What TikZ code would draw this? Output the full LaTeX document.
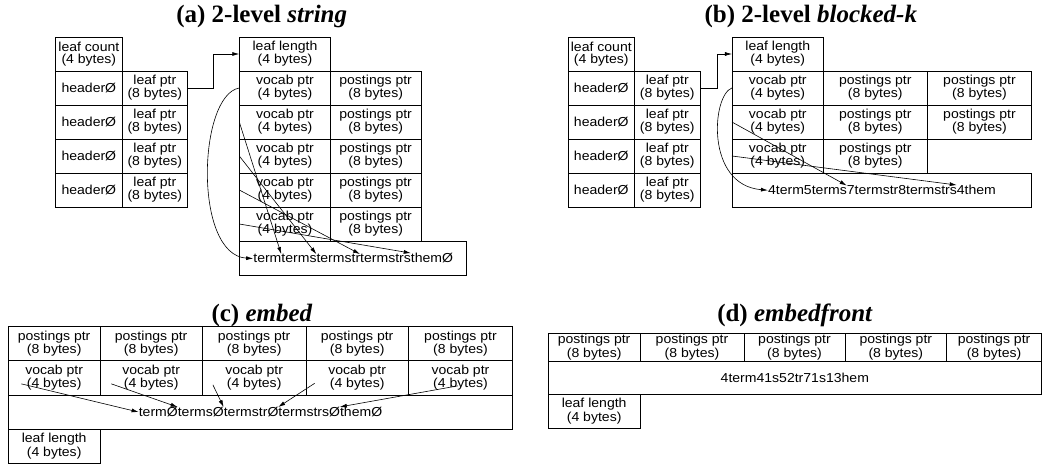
\documentclass[tikz,border=0pt]{standalone}
\usepackage{fontspec}
\usetikzlibrary{arrows.meta,matrix,calc}
\newfontfamily\cellfont{Liberation Sans}[FakeStretch=1.08]
\newfontfamily\titlefont{Liberation Serif}
\newcommand\bx[6]{\node[cell, minimum width={(#4-#2)*1pt}, minimum height={(#5-#3)*1pt}] (#1) at ({(#2+#4)/2},{(#3+#5)/2}) {#6};}
\tikzset{
  cell/.style={draw, line width=0.8pt, inner sep=0pt, align=center, font={\cellfont\fontsize{13}{12}\selectfont}},
  seg/.style={inner sep=0pt, font={\cellfont\fontsize{13}{12}\selectfont}},
  strrow/.style={matrix of nodes, nodes={seg}, column sep=0pt, inner sep=0pt, anchor=center},
  arr/.style={line width=0.6pt, -{Latex[length=7pt,width=4pt]}},
  ttl/.style={anchor=base, inner sep=0pt, font={\titlefont\fontsize{25}{27}\selectfont\bfseries}}
}
\begin{document}
\begin{tikzpicture}[x=1pt,y=-1pt]
\useasboundingbox (0,0) rectangle (1042,465);
% ---------- (a) ----------
\node[ttl] (ta) at (261.7,23) {(a) 2-level \textit{string}};
\bx{alc}{55.7}{37}{122}{71}{leaf count\\(4 bytes)}
\foreach \i/\ya/\yb in {1/71/105,2/105/139,3/139/173,4/173/207}{
  \bx{ah\i}{55.7}{\ya}{122}{\yb}{headerØ}
  \bx{ap\i}{122}{\ya}{187.7}{\yb}{leaf ptr\\(8 bytes)}
}
\bx{all}{239.7}{37}{330.3}{71}{leaf length\\(4 bytes)}
\foreach \i/\ya/\yb in {1/71/105,2/105/139,3/139/173,4/173/207,5/207/241}{
  \bx{av\i}{239.7}{\ya}{330.3}{\yb}{vocab ptr\\(4 bytes)}
  \bx{apo\i}{330.3}{\ya}{421}{\yb}{postings ptr\\(8 bytes)}
}
\bx{astr}{239.7}{241}{466.7}{275.3}{}
\matrix (at) [strrow] at (astr.center) {term & terms & termstr & termstrs & themØ\\};
\draw[arr] (ap1.east) -- ++(25.3,0) |- (all.west);
\draw[arr] (av1.west) .. controls (198,95) and (193,255) .. (at-1-1.west);
\draw[arr] (av2.west) -- (at-1-2.north west);
\draw[arr] (av3.west) -- (at-1-3.north west);
\draw[arr] (av4.west) -- (at-1-4.north west);
\draw[arr] (av5.west) -- (at-1-5.north west);
% ---------- (b) ----------
\node[ttl] (tb) at (810.8,23) {(b) 2-level \textit{blocked-k}};
\bx{blc}{568.3}{37}{634.3}{71}{leaf count\\(4 bytes)}
\foreach \i/\ya/\yb in {1/71/105,2/105/139,3/139/173,4/173/207}{
  \bx{bh\i}{568.3}{\ya}{634.3}{\yb}{headerØ}
  \bx{bp\i}{634.3}{\ya}{700.3}{\yb}{leaf ptr\\(8 bytes)}
}
\bx{bll}{732.3}{37}{823.3}{71}{leaf length\\(4 bytes)}
\foreach \i/\ya/\yb in {1/71/105,2/105/139,3/139/173}{
  \bx{bv\i}{732.3}{\ya}{823.3}{\yb}{vocab ptr\\(4 bytes)}
  \bx{bpa\i}{823.3}{\ya}{927.3}{\yb}{postings ptr\\(8 bytes)}
}
\foreach \i/\ya/\yb in {1/71/105,2/105/139}{
  \bx{bpb\i}{927.3}{\ya}{1031.7}{\yb}{postings ptr\\(8 bytes)}
}
\bx{bstr}{732.3}{173}{1031.7}{207}{}
\matrix (bt) [strrow] at (bstr.center) {4term & 5terms & 7termstr & 8termstrs & 4them\\};
\draw[arr] (bp1.east) -- ++(16.4,0) |- (bll.west);
\draw[arr] (bv1.west) .. controls (712,95) and (705,185) .. (bt-1-1.west);
\draw[arr] (bv2.west) -- (bt-1-3.north west);
\draw[arr] (bv3.west) -- (bt-1-5.north west);
% ---------- (c) ----------
\node[ttl] (tc) at (262,321) {(c) \textit{embed}};
\foreach \i/\xa/\xb in {1/8.3/100,2/100/202.3,3/202.3/306,4/306/408.3,5/408.3/512.7}{
  \bx{cp\i}{\xa}{326.7}{\xb}{360.7}{postings ptr\\(8 bytes)}
  \bx{cv\i}{\xa}{360.7}{\xb}{395}{vocab ptr\\(4 bytes)}
}
\bx{cstr}{8.3}{395}{512.7}{429}{}
\bx{cll}{8.3}{429}{100}{463.3}{leaf length\\(4 bytes)}
\matrix (ct) [strrow] at (cstr.center) {termØ & termsØ & termstrØ & termstrsØ & themØ\\};
\coordinate (cs1) at ([xshift=13.4pt,yshift=-6pt]cv1.west);
\coordinate (cs2) at ([xshift=11.7pt,yshift=-6pt]cv2.west);
\coordinate (cs3) at ([xshift=11pt,yshift=-7pt]cv3.west);
\coordinate (cs4) at ([xshift=9pt,yshift=-5.5pt]cv4.west);
\coordinate (cs5) at ([xshift=50pt,yshift=-8pt]cv5.west);
\draw[arr] (cs1) -- (ct-1-1.west);
\draw[arr] (cs2) -- (ct-1-2.north west);
\draw[arr] (cs3) -- (ct-1-3.north west);
\draw[arr] (cs4) -- (ct-1-4.north west);
\draw[arr] (cs5) -- (ct-1-5.north west);
% ---------- (d) ----------
\node[ttl] (td) at (795,321) {(d) \textit{embedfront}};
\foreach \i/\xa/\xb in {1/548.3/640,2/640/744,3/744/845,4/845/946.7,5/946.7/1041.4}{
  \bx{dp\i}{\xa}{333.3}{\xb}{361}{postings ptr\\(8 bytes)}
}
\bx{dstr}{548.3}{361}{1041.4}{394}{4term41s52tr71s13hem}
\bx{dll}{548.3}{394}{640}{428.3}{leaf length\\(4 bytes)}
\end{tikzpicture}
\end{document}
